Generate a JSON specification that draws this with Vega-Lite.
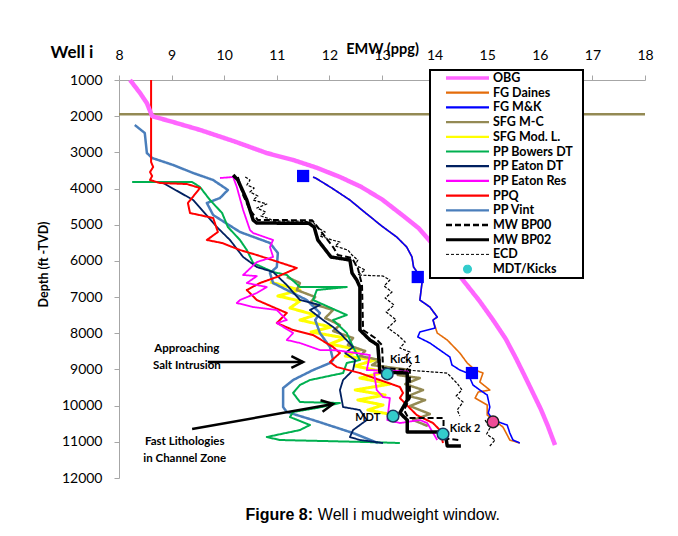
{
  "$schema": "https://vega.github.io/schema/vega-lite/v6.json",
  "width": 526,
  "height": 398,
  "autosize": {"type": "none"},
  "padding": {"left": 119, "top": 80, "right": 33, "bottom": 58},
  "background": "white",
  "config": {"view": {"stroke": null}, "axis": {"grid": false}, "font": "Lato", "legend": {"labelFontWeight": "bold"}},
  "datasets": {
    "lines": [
      {"series": "SFG Mod. L.", "emw": 10.87, "depth": 6583}, {"series": "SFG Mod. L.", "emw": 11.44, "depth": 6804}, {"series": "SFG Mod. L.", "emw": 11.02, "depth": 6970}, {"series": "SFG Mod. L.", "emw": 11.44, "depth": 7108}, {"series": "SFG Mod. L.", "emw": 11.25, "depth": 7302}, {"series": "SFG Mod. L.", "emw": 11.73, "depth": 7495}, {"series": "SFG Mod. L.", "emw": 11.44, "depth": 7634}, {"series": "SFG Mod. L.", "emw": 12.03, "depth": 7827}, {"series": "SFG Mod. L.", "emw": 11.65, "depth": 7965}, {"series": "SFG Mod. L.", "emw": 12.30, "depth": 8131}, {"series": "SFG Mod. L.", "emw": 12.01, "depth": 8297}, {"series": "SFG Mod. L.", "emw": 12.58, "depth": 8463}, {"series": "SFG Mod. L.", "emw": 12.30, "depth": 8629}, {"series": "SFG Mod. L.", "emw": 12.86, "depth": 8739}, {"series": "SFG Mod. L.", "emw": 12.49, "depth": 8905}, {"series": "SFG Mod. L.", "emw": 13.06, "depth": 9071}, {"series": "SFG Mod. L.", "emw": 12.58, "depth": 9237}, {"series": "SFG Mod. L.", "emw": 13.15, "depth": 9403}, {"series": "SFG Mod. L.", "emw": 12.49, "depth": 9568}, {"series": "SFG Mod. L.", "emw": 13.06, "depth": 9707}, {"series": "SFG Mod. L.", "emw": 12.54, "depth": 9845}, {"series": "SFG Mod. L.", "emw": 13.02, "depth": 9983}, {"series": "SFG Mod. L.", "emw": 12.73, "depth": 10121}, {"series": "SFG Mod. L.", "emw": 13.13, "depth": 10232},
      {"series": "SFG M-C", "seg": "a", "emw": 8, "depth": 1950}, {"series": "SFG M-C", "seg": "a", "emw": 18, "depth": 1950},
      {"series": "SFG M-C", "seg": "b", "emw": 11.19, "depth": 6445}, {"series": "SFG M-C", "seg": "b", "emw": 11.44, "depth": 6611}, {"series": "SFG M-C", "seg": "b", "emw": 11.38, "depth": 6804}, {"series": "SFG M-C", "seg": "b", "emw": 11.73, "depth": 6998}, {"series": "SFG M-C", "seg": "b", "emw": 11.63, "depth": 7164}, {"series": "SFG M-C", "seg": "b", "emw": 12.07, "depth": 7357}, {"series": "SFG M-C", "seg": "b", "emw": 11.92, "depth": 7578}, {"series": "SFG M-C", "seg": "b", "emw": 12.20, "depth": 7772}, {"series": "SFG M-C", "seg": "b", "emw": 12.07, "depth": 7938}, {"series": "SFG M-C", "seg": "b", "emw": 12.45, "depth": 8131}, {"series": "SFG M-C", "seg": "b", "emw": 12.35, "depth": 8325}, {"series": "SFG M-C", "seg": "b", "emw": 12.68, "depth": 8491}, {"series": "SFG M-C", "seg": "b", "emw": 12.58, "depth": 8629}, {"series": "SFG M-C", "seg": "b", "emw": 12.96, "depth": 8739}, {"series": "SFG M-C", "seg": "b", "emw": 12.81, "depth": 8877}, {"series": "SFG M-C", "seg": "b", "emw": 13.53, "depth": 9016}, {"series": "SFG M-C", "seg": "b", "emw": 13.30, "depth": 9154}, {"series": "SFG M-C", "seg": "b", "emw": 13.72, "depth": 9237}, {"series": "SFG M-C", "seg": "b", "emw": 13.44, "depth": 9403}, {"series": "SFG M-C", "seg": "b", "emw": 13.78, "depth": 9568}, {"series": "SFG M-C", "seg": "b", "emw": 13.50, "depth": 9734}, {"series": "SFG M-C", "seg": "b", "emw": 13.82, "depth": 9845}, {"series": "SFG M-C", "seg": "b", "emw": 13.53, "depth": 10011}, {"series": "SFG M-C", "seg": "b", "emw": 13.91, "depth": 10232}, {"series": "SFG M-C", "seg": "b", "emw": 13.59, "depth": 10398}, {"series": "SFG M-C", "seg": "b", "emw": 13.87, "depth": 10564},
      {"series": "PP Vint", "emw": 8.30, "depth": 2244}, {"series": "PP Vint", "emw": 8.49, "depth": 2465}, {"series": "PP Vint", "emw": 8.53, "depth": 3018}, {"series": "PP Vint", "emw": 8.63, "depth": 3156}, {"series": "PP Vint", "emw": 9.03, "depth": 3349}, {"series": "PP Vint", "emw": 9.41, "depth": 3571}, {"series": "PP Vint", "emw": 9.79, "depth": 3764}, {"series": "PP Vint", "emw": 10.07, "depth": 4040}, {"series": "PP Vint", "emw": 9.92, "depth": 4262}, {"series": "PP Vint", "emw": 9.67, "depth": 4400}, {"series": "PP Vint", "emw": 9.79, "depth": 4731}, {"series": "PP Vint", "emw": 10.30, "depth": 5201}, {"series": "PP Vint", "emw": 10.87, "depth": 5505}, {"series": "PP Vint", "emw": 11.02, "depth": 5782}, {"series": "PP Vint", "emw": 11.00, "depth": 6169}, {"series": "PP Vint", "emw": 10.87, "depth": 6335}, {"series": "PP Vint", "emw": 10.93, "depth": 6611}, {"series": "PP Vint", "emw": 11.19, "depth": 6804}, {"series": "PP Vint", "emw": 11.57, "depth": 7081}, {"series": "PP Vint", "emw": 11.82, "depth": 7440}, {"series": "PP Vint", "emw": 11.73, "depth": 7634}, {"series": "PP Vint", "emw": 11.82, "depth": 7993}, {"series": "PP Vint", "emw": 12.01, "depth": 8380}, {"series": "PP Vint", "emw": 12.07, "depth": 8739}, {"series": "PP Vint", "emw": 12.01, "depth": 8822}, {"series": "PP Vint", "emw": 11.69, "depth": 9016}, {"series": "PP Vint", "emw": 11.31, "depth": 9292}, {"series": "PP Vint", "emw": 11.12, "depth": 9513}, {"series": "PP Vint", "emw": 11.12, "depth": 10038}, {"series": "PP Vint", "emw": 11.19, "depth": 10176}, {"series": "PP Vint", "emw": 11.69, "depth": 10398}, {"series": "PP Vint", "emw": 12.45, "depth": 10757}, {"series": "PP Vint", "emw": 12.92, "depth": 11033},
      {"series": "PP Bowers DT", "emw": 8.25, "depth": 3819}, {"series": "PP Bowers DT", "emw": 9.39, "depth": 3819}, {"series": "PP Bowers DT", "emw": 9.54, "depth": 3958}, {"series": "PP Bowers DT", "emw": 9.73, "depth": 4317}, {"series": "PP Bowers DT", "emw": 9.96, "depth": 4676}, {"series": "PP Bowers DT", "emw": 10.07, "depth": 5063}, {"series": "PP Bowers DT", "emw": 10.30, "depth": 5422}, {"series": "PP Bowers DT", "emw": 10.43, "depth": 5699}, {"series": "PP Bowers DT", "emw": 10.55, "depth": 6058}, {"series": "PP Bowers DT", "emw": 10.93, "depth": 6307}, {"series": "PP Bowers DT", "emw": 11.19, "depth": 6390}, {"series": "PP Bowers DT", "emw": 11.44, "depth": 6722}, {"series": "PP Bowers DT", "emw": 12.33, "depth": 6722}, {"series": "PP Bowers DT", "emw": 11.76, "depth": 6804}, {"series": "PP Bowers DT", "emw": 11.69, "depth": 7081}, {"series": "PP Bowers DT", "emw": 12.33, "depth": 7495}, {"series": "PP Bowers DT", "emw": 12.07, "depth": 7634}, {"series": "PP Bowers DT", "emw": 12.33, "depth": 7993}, {"series": "PP Bowers DT", "emw": 12.45, "depth": 8380}, {"series": "PP Bowers DT", "emw": 12.58, "depth": 8739}, {"series": "PP Bowers DT", "emw": 12.33, "depth": 8822}, {"series": "PP Bowers DT", "emw": 12.26, "depth": 9099}, {"series": "PP Bowers DT", "emw": 11.63, "depth": 9292}, {"series": "PP Bowers DT", "emw": 11.44, "depth": 9430}, {"series": "PP Bowers DT", "emw": 11.31, "depth": 9651}, {"series": "PP Bowers DT", "emw": 11.44, "depth": 9900}, {"series": "PP Bowers DT", "emw": 12.20, "depth": 9928}, {"series": "PP Bowers DT", "emw": 11.76, "depth": 10066}, {"series": "PP Bowers DT", "emw": 11.31, "depth": 10176}, {"series": "PP Bowers DT", "emw": 11.25, "depth": 10315}, {"series": "PP Bowers DT", "emw": 11.63, "depth": 10536}, {"series": "PP Bowers DT", "emw": 11.44, "depth": 10674}, {"series": "PP Bowers DT", "emw": 10.81, "depth": 10868}, {"series": "PP Bowers DT", "emw": 11.06, "depth": 10950}, {"series": "PP Bowers DT", "emw": 12.71, "depth": 11006}, {"series": "PP Bowers DT", "emw": 13.34, "depth": 11033},
      {"series": "PP Eaton DT", "emw": 8.84, "depth": 3847}, {"series": "PP Eaton DT", "emw": 9.41, "depth": 4317}, {"series": "PP Eaton DT", "emw": 9.86, "depth": 5063}, {"series": "PP Eaton DT", "emw": 10.11, "depth": 5422}, {"series": "PP Eaton DT", "emw": 10.36, "depth": 5892}, {"series": "PP Eaton DT", "emw": 10.62, "depth": 6169}, {"series": "PP Eaton DT", "emw": 10.93, "depth": 6307}, {"series": "PP Eaton DT", "emw": 11.19, "depth": 6666}, {"series": "PP Eaton DT", "emw": 11.44, "depth": 7081}, {"series": "PP Eaton DT", "emw": 11.82, "depth": 7219}, {"series": "PP Eaton DT", "emw": 11.63, "depth": 7357}, {"series": "PP Eaton DT", "emw": 11.88, "depth": 7634}, {"series": "PP Eaton DT", "emw": 12.07, "depth": 7827}, {"series": "PP Eaton DT", "emw": 12.20, "depth": 7993}, {"series": "PP Eaton DT", "emw": 12.45, "depth": 8380}, {"series": "PP Eaton DT", "emw": 12.30, "depth": 8546}, {"series": "PP Eaton DT", "emw": 12.49, "depth": 8739}, {"series": "PP Eaton DT", "emw": 12.45, "depth": 9016}, {"series": "PP Eaton DT", "emw": 12.26, "depth": 9292}, {"series": "PP Eaton DT", "emw": 12.20, "depth": 9568}, {"series": "PP Eaton DT", "emw": 12.26, "depth": 10038}, {"series": "PP Eaton DT", "emw": 12.58, "depth": 10121}, {"series": "PP Eaton DT", "emw": 12.71, "depth": 10398}, {"series": "PP Eaton DT", "emw": 12.45, "depth": 10674}, {"series": "PP Eaton DT", "emw": 12.39, "depth": 10868}, {"series": "PP Eaton DT", "emw": 12.58, "depth": 10950}, {"series": "PP Eaton DT", "emw": 13.02, "depth": 11033},
      {"series": "PPQ", "emw": 8.61, "depth": 1000}, {"series": "PPQ", "emw": 8.61, "depth": 3267}, {"series": "PPQ", "emw": 8.65, "depth": 3405}, {"series": "PPQ", "emw": 8.59, "depth": 3543}, {"series": "PPQ", "emw": 8.63, "depth": 3654}, {"series": "PPQ", "emw": 8.59, "depth": 3764}, {"series": "PPQ", "emw": 8.78, "depth": 3847}, {"series": "PPQ", "emw": 9.29, "depth": 3875}, {"series": "PPQ", "emw": 9.54, "depth": 3985}, {"series": "PPQ", "emw": 9.31, "depth": 4400}, {"series": "PPQ", "emw": 9.35, "depth": 4676}, {"series": "PPQ", "emw": 9.79, "depth": 4814}, {"series": "PPQ", "emw": 9.88, "depth": 5201}, {"series": "PPQ", "emw": 9.67, "depth": 5422}, {"series": "PPQ", "emw": 9.96, "depth": 5505}, {"series": "PPQ", "emw": 10.30, "depth": 5699}, {"series": "PPQ", "emw": 10.62, "depth": 5837}, {"series": "PPQ", "emw": 11.38, "depth": 6196}, {"series": "PPQ", "emw": 11.00, "depth": 6445}, {"series": "PPQ", "emw": 10.68, "depth": 6611}, {"series": "PPQ", "emw": 10.43, "depth": 6804}, {"series": "PPQ", "emw": 10.62, "depth": 7081}, {"series": "PPQ", "emw": 11.19, "depth": 7440}, {"series": "PPQ", "emw": 11.00, "depth": 7717}, {"series": "PPQ", "emw": 11.31, "depth": 7910}, {"series": "PPQ", "emw": 11.69, "depth": 8048}, {"series": "PPQ", "emw": 12.07, "depth": 8380}, {"series": "PPQ", "emw": 12.20, "depth": 8546}, {"series": "PPQ", "emw": 12.01, "depth": 8794}, {"series": "PPQ", "emw": 12.14, "depth": 8933}, {"series": "PPQ", "emw": 12.58, "depth": 9099}, {"series": "PPQ", "emw": 12.96, "depth": 9292}, {"series": "PPQ", "emw": 13.34, "depth": 9485}, {"series": "PPQ", "emw": 13.40, "depth": 9651}, {"series": "PPQ", "emw": 13.34, "depth": 9790}, {"series": "PPQ", "emw": 13.47, "depth": 9983}, {"series": "PPQ", "emw": 13.66, "depth": 10260}, {"series": "PPQ", "emw": 13.97, "depth": 10481}, {"series": "PPQ", "emw": 14.10, "depth": 10674}, {"series": "PPQ", "emw": 14.16, "depth": 11033},
      {"series": "PP Eaton Res", "emw": 9.92, "depth": 3709}, {"series": "PP Eaton Res", "emw": 10.17, "depth": 3681}, {"series": "PP Eaton Res", "emw": 10.24, "depth": 3958}, {"series": "PP Eaton Res", "emw": 10.36, "depth": 4593}, {"series": "PP Eaton Res", "emw": 10.49, "depth": 5146}, {"series": "PP Eaton Res", "emw": 10.55, "depth": 5229}, {"series": "PP Eaton Res", "emw": 10.93, "depth": 5422}, {"series": "PP Eaton Res", "emw": 10.87, "depth": 5616}, {"series": "PP Eaton Res", "emw": 10.93, "depth": 5892}, {"series": "PP Eaton Res", "emw": 10.62, "depth": 6031}, {"series": "PP Eaton Res", "emw": 10.36, "depth": 6390}, {"series": "PP Eaton Res", "emw": 10.62, "depth": 6420}, {"series": "PP Eaton Res", "emw": 10.43, "depth": 6611}, {"series": "PP Eaton Res", "emw": 10.81, "depth": 6722}, {"series": "PP Eaton Res", "emw": 10.62, "depth": 6887}, {"series": "PP Eaton Res", "emw": 10.30, "depth": 7081}, {"series": "PP Eaton Res", "emw": 10.24, "depth": 7164}, {"series": "PP Eaton Res", "emw": 10.55, "depth": 7274}, {"series": "PP Eaton Res", "emw": 11.00, "depth": 7357}, {"series": "PP Eaton Res", "emw": 11.19, "depth": 7634}, {"series": "PP Eaton Res", "emw": 11.00, "depth": 7717}, {"series": "PP Eaton Res", "emw": 11.31, "depth": 7993}, {"series": "PP Eaton Res", "emw": 11.19, "depth": 8186}, {"series": "PP Eaton Res", "emw": 11.44, "depth": 8269}, {"series": "PP Eaton Res", "emw": 11.82, "depth": 8463}, {"series": "PP Eaton Res", "emw": 12.14, "depth": 8470}, {"series": "PP Eaton Res", "emw": 12.77, "depth": 8601}, {"series": "PP Eaton Res", "emw": 12.71, "depth": 9016}, {"series": "PP Eaton Res", "emw": 13.50, "depth": 9050}, {"series": "PP Eaton Res", "emw": 12.85, "depth": 9100}, {"series": "PP Eaton Res", "emw": 12.90, "depth": 9568}, {"series": "PP Eaton Res", "emw": 13.02, "depth": 9762}, {"series": "PP Eaton Res", "emw": 13.15, "depth": 9790}, {"series": "PP Eaton Res", "emw": 13.10, "depth": 10398}, {"series": "PP Eaton Res", "emw": 13.34, "depth": 10481}, {"series": "PP Eaton Res", "emw": 13.72, "depth": 10398}, {"series": "PP Eaton Res", "emw": 13.86, "depth": 10481}, {"series": "PP Eaton Res", "emw": 14.05, "depth": 10950},
      {"series": "FG Daines", "emw": 11.69, "depth": 3681}, {"series": "FG Daines", "emw": 11.75, "depth": 3720}, {"series": "FG Daines", "emw": 12.05, "depth": 3990}, {"series": "FG Daines", "emw": 12.39, "depth": 4317}, {"series": "FG Daines", "emw": 12.70, "depth": 4690}, {"series": "FG Daines", "emw": 13.02, "depth": 5063}, {"series": "FG Daines", "emw": 13.28, "depth": 5340}, {"series": "FG Daines", "emw": 13.47, "depth": 5616}, {"series": "FG Daines", "emw": 13.57, "depth": 5892}, {"series": "FG Daines", "emw": 13.60, "depth": 6169}, {"series": "FG Daines", "emw": 13.68, "depth": 6335}, {"series": "FG Daines", "emw": 13.76, "depth": 6611}, {"series": "FG Daines", "emw": 13.72, "depth": 7081}, {"series": "FG Daines", "emw": 13.91, "depth": 7274}, {"series": "FG Daines", "emw": 14.05, "depth": 7551}, {"series": "FG Daines", "emw": 13.97, "depth": 7634}, {"series": "FG Daines", "emw": 14.05, "depth": 7993}, {"series": "FG Daines", "emw": 14.24, "depth": 8186}, {"series": "FG Daines", "emw": 14.48, "depth": 8546}, {"series": "FG Daines", "emw": 14.62, "depth": 8822}, {"series": "FG Daines", "emw": 14.77, "depth": 9016}, {"series": "FG Daines", "emw": 14.92, "depth": 9099}, {"series": "FG Daines", "emw": 14.86, "depth": 9347}, {"series": "FG Daines", "emw": 15.05, "depth": 9568}, {"series": "FG Daines", "emw": 14.83, "depth": 9624}, {"series": "FG Daines", "emw": 14.77, "depth": 9790}, {"series": "FG Daines", "emw": 15.00, "depth": 9983}, {"series": "FG Daines", "emw": 15.00, "depth": 10260}, {"series": "FG Daines", "emw": 15.30, "depth": 10591}, {"series": "FG Daines", "emw": 15.38, "depth": 10812}, {"series": "FG Daines", "emw": 15.43, "depth": 10950}, {"series": "FG Daines", "emw": 15.62, "depth": 11033},
      {"series": "FG M&K", "emw": 11.69, "depth": 3681}, {"series": "FG M&K", "emw": 11.75, "depth": 3720}, {"series": "FG M&K", "emw": 12.05, "depth": 3990}, {"series": "FG M&K", "emw": 12.39, "depth": 4317}, {"series": "FG M&K", "emw": 12.70, "depth": 4690}, {"series": "FG M&K", "emw": 13.02, "depth": 5063}, {"series": "FG M&K", "emw": 13.28, "depth": 5340}, {"series": "FG M&K", "emw": 13.47, "depth": 5616}, {"series": "FG M&K", "emw": 13.57, "depth": 5892}, {"series": "FG M&K", "emw": 13.60, "depth": 6169}, {"series": "FG M&K", "emw": 13.68, "depth": 6335}, {"series": "FG M&K", "emw": 13.76, "depth": 6611}, {"series": "FG M&K", "emw": 13.72, "depth": 7081}, {"series": "FG M&K", "emw": 13.91, "depth": 7274}, {"series": "FG M&K", "emw": 14.05, "depth": 7551}, {"series": "FG M&K", "emw": 13.97, "depth": 7634}, {"series": "FG M&K", "emw": 14.01, "depth": 7855}, {"series": "FG M&K", "emw": 13.72, "depth": 7965}, {"series": "FG M&K", "emw": 13.68, "depth": 8103}, {"series": "FG M&K", "emw": 13.91, "depth": 8269}, {"series": "FG M&K", "emw": 14.10, "depth": 8463}, {"series": "FG M&K", "emw": 14.29, "depth": 8656}, {"series": "FG M&K", "emw": 14.33, "depth": 8877}, {"series": "FG M&K", "emw": 14.48, "depth": 9016}, {"series": "FG M&K", "emw": 14.63, "depth": 9099}, {"series": "FG M&K", "emw": 14.73, "depth": 9430}, {"series": "FG M&K", "emw": 14.86, "depth": 9568}, {"series": "FG M&K", "emw": 15.00, "depth": 9707}, {"series": "FG M&K", "emw": 15.05, "depth": 10038}, {"series": "FG M&K", "emw": 15.02, "depth": 10204}, {"series": "FG M&K", "emw": 15.11, "depth": 10398}, {"series": "FG M&K", "emw": 15.38, "depth": 10536}, {"series": "FG M&K", "emw": 15.43, "depth": 10757}, {"series": "FG M&K", "emw": 15.49, "depth": 10950}, {"series": "FG M&K", "emw": 15.62, "depth": 11033},
      {"series": "OBG", "emw": 8.21, "depth": 1000}, {"series": "OBG", "emw": 8.40, "depth": 1360}, {"series": "OBG", "emw": 8.53, "depth": 1640}, {"series": "OBG", "emw": 8.63, "depth": 2000}, {"series": "OBG", "emw": 9.00, "depth": 2150}, {"series": "OBG", "emw": 9.54, "depth": 2380}, {"series": "OBG", "emw": 10.20, "depth": 2700}, {"series": "OBG", "emw": 10.81, "depth": 3020}, {"series": "OBG", "emw": 11.31, "depth": 3210}, {"series": "OBG", "emw": 11.75, "depth": 3420}, {"series": "OBG", "emw": 12.20, "depth": 3680}, {"series": "OBG", "emw": 12.60, "depth": 3950}, {"series": "OBG", "emw": 13.00, "depth": 4300}, {"series": "OBG", "emw": 13.40, "depth": 4750}, {"series": "OBG", "emw": 13.70, "depth": 5100}, {"series": "OBG", "emw": 13.91, "depth": 5450}, {"series": "OBG", "emw": 14.25, "depth": 6000}, {"series": "OBG", "emw": 14.55, "depth": 6550}, {"series": "OBG", "emw": 14.85, "depth": 7100}, {"series": "OBG", "emw": 15.11, "depth": 7630}, {"series": "OBG", "emw": 15.35, "depth": 8150}, {"series": "OBG", "emw": 15.55, "depth": 8700}, {"series": "OBG", "emw": 15.72, "depth": 9200}, {"series": "OBG", "emw": 15.87, "depth": 9650}, {"series": "OBG", "emw": 16.02, "depth": 10100}, {"series": "OBG", "emw": 16.15, "depth": 10550}, {"series": "OBG", "emw": 16.29, "depth": 11090},
      {"series": "ECD", "seg": "a", "emw": 10.40, "depth": 3681}, {"series": "ECD", "seg": "a", "emw": 10.49, "depth": 3764}, {"series": "ECD", "seg": "a", "emw": 10.43, "depth": 3902}, {"series": "ECD", "seg": "a", "emw": 10.57, "depth": 3985}, {"series": "ECD", "seg": "a", "emw": 10.49, "depth": 4096}, {"series": "ECD", "seg": "a", "emw": 10.64, "depth": 4206}, {"series": "ECD", "seg": "a", "emw": 10.55, "depth": 4317}, {"series": "ECD", "seg": "a", "emw": 10.81, "depth": 4427}, {"series": "ECD", "seg": "a", "emw": 10.62, "depth": 4538}, {"series": "ECD", "seg": "a", "emw": 10.79, "depth": 4649}, {"series": "ECD", "seg": "a", "emw": 10.70, "depth": 4759}, {"series": "ECD", "seg": "a", "emw": 10.87, "depth": 4842}, {"series": "ECD", "seg": "a", "emw": 10.93, "depth": 4898}, {"series": "ECD", "seg": "a", "emw": 11.44, "depth": 4900}, {"series": "ECD", "seg": "a", "emw": 11.69, "depth": 4925}, {"series": "ECD", "seg": "a", "emw": 11.78, "depth": 5091}, {"series": "ECD", "seg": "a", "emw": 11.92, "depth": 5201}, {"series": "ECD", "seg": "a", "emw": 11.82, "depth": 5312}, {"series": "ECD", "seg": "a", "emw": 12.05, "depth": 5422}, {"series": "ECD", "seg": "a", "emw": 12.20, "depth": 5478}, {"series": "ECD", "seg": "a", "emw": 12.11, "depth": 5588}, {"series": "ECD", "seg": "a", "emw": 12.35, "depth": 5699}, {"series": "ECD", "seg": "a", "emw": 12.43, "depth": 5837}, {"series": "ECD", "seg": "a", "emw": 12.54, "depth": 5975}, {"series": "ECD", "seg": "a", "emw": 12.49, "depth": 6113}, {"series": "ECD", "seg": "a", "emw": 12.68, "depth": 6252}, {"series": "ECD", "seg": "a", "emw": 12.54, "depth": 6390}, {"series": "ECD", "seg": "a", "emw": 13.02, "depth": 6418}, {"series": "ECD", "seg": "a", "emw": 13.15, "depth": 6528}, {"series": "ECD", "seg": "a", "emw": 13.04, "depth": 6694}, {"series": "ECD", "seg": "a", "emw": 13.19, "depth": 6860}, {"series": "ECD", "seg": "a", "emw": 13.06, "depth": 7026}, {"series": "ECD", "seg": "a", "emw": 13.23, "depth": 7219}, {"series": "ECD", "seg": "a", "emw": 13.08, "depth": 7412}, {"series": "ECD", "seg": "a", "emw": 13.27, "depth": 7634}, {"series": "ECD", "seg": "a", "emw": 13.11, "depth": 7855}, {"series": "ECD", "seg": "a", "emw": 13.30, "depth": 8048}, {"series": "ECD", "seg": "a", "emw": 13.44, "depth": 8242}, {"series": "ECD", "seg": "a", "emw": 13.34, "depth": 8408}, {"series": "ECD", "seg": "a", "emw": 13.53, "depth": 8518}, {"series": "ECD", "seg": "a", "emw": 13.42, "depth": 8684}, {"series": "ECD", "seg": "a", "emw": 13.57, "depth": 8850}, {"series": "ECD", "seg": "a", "emw": 13.46, "depth": 9016}, {"series": "ECD", "seg": "a", "emw": 14.24, "depth": 9099}, {"series": "ECD", "seg": "a", "emw": 14.33, "depth": 9237}, {"series": "ECD", "seg": "a", "emw": 14.44, "depth": 9403}, {"series": "ECD", "seg": "a", "emw": 14.52, "depth": 9568}, {"series": "ECD", "seg": "a", "emw": 14.41, "depth": 9734}, {"series": "ECD", "seg": "a", "emw": 14.54, "depth": 9900}, {"series": "ECD", "seg": "a", "emw": 14.43, "depth": 10121}, {"series": "ECD", "seg": "a", "emw": 14.48, "depth": 10287},
      {"series": "ECD", "seg": "b", "emw": 14.96, "depth": 10398}, {"series": "ECD", "seg": "b", "emw": 15.05, "depth": 10619}, {"series": "ECD", "seg": "b", "emw": 14.99, "depth": 10785}, {"series": "ECD", "seg": "b", "emw": 15.15, "depth": 10950}, {"series": "ECD", "seg": "b", "emw": 15.05, "depth": 11116},
      {"series": "MW BP00", "emw": 10.26, "depth": 3681}, {"series": "MW BP00", "emw": 10.36, "depth": 4179}, {"series": "MW BP00", "emw": 10.49, "depth": 4593}, {"series": "MW BP00", "emw": 10.64, "depth": 4870}, {"series": "MW BP00", "emw": 11.67, "depth": 4875}, {"series": "MW BP00", "emw": 11.82, "depth": 5146}, {"series": "MW BP00", "emw": 12.07, "depth": 5616}, {"series": "MW BP00", "emw": 12.16, "depth": 5837}, {"series": "MW BP00", "emw": 12.43, "depth": 5920}, {"series": "MW BP00", "emw": 12.54, "depth": 6196}, {"series": "MW BP00", "emw": 12.62, "depth": 6666}, {"series": "MW BP00", "emw": 12.64, "depth": 7910}, {"series": "MW BP00", "emw": 12.87, "depth": 8131}, {"series": "MW BP00", "emw": 13.00, "depth": 8325}, {"series": "MW BP00", "emw": 13.02, "depth": 8960}, {"series": "MW BP00", "emw": 13.53, "depth": 9016}, {"series": "MW BP00", "emw": 13.53, "depth": 9790}, {"series": "MW BP00", "emw": 13.42, "depth": 10121}, {"series": "MW BP00", "emw": 13.50, "depth": 10343}, {"series": "MW BP00", "emw": 14.17, "depth": 10343}, {"series": "MW BP00", "emw": 14.17, "depth": 10900}, {"series": "MW BP00", "emw": 14.45, "depth": 10950},
      {"series": "MW BP02", "emw": 10.17, "depth": 3626}, {"series": "MW BP02", "emw": 10.26, "depth": 3764}, {"series": "MW BP02", "emw": 10.43, "depth": 4317}, {"series": "MW BP02", "emw": 10.55, "depth": 4870}, {"series": "MW BP02", "emw": 10.62, "depth": 4953}, {"series": "MW BP02", "emw": 11.61, "depth": 4960}, {"series": "MW BP02", "emw": 11.71, "depth": 5063}, {"series": "MW BP02", "emw": 11.78, "depth": 5422}, {"series": "MW BP02", "emw": 12.03, "depth": 5892}, {"series": "MW BP02", "emw": 12.39, "depth": 5975}, {"series": "MW BP02", "emw": 12.43, "depth": 6335}, {"series": "MW BP02", "emw": 12.52, "depth": 6528}, {"series": "MW BP02", "emw": 12.58, "depth": 6722}, {"series": "MW BP02", "emw": 12.58, "depth": 7910}, {"series": "MW BP02", "emw": 12.77, "depth": 8186}, {"series": "MW BP02", "emw": 12.92, "depth": 8325}, {"series": "MW BP02", "emw": 12.96, "depth": 9071}, {"series": "MW BP02", "emw": 13.48, "depth": 9099}, {"series": "MW BP02", "emw": 13.48, "depth": 9845}, {"series": "MW BP02", "emw": 13.34, "depth": 10200}, {"series": "MW BP02", "emw": 13.48, "depth": 10400}, {"series": "MW BP02", "emw": 13.48, "depth": 10729}, {"series": "MW BP02", "emw": 14.20, "depth": 10729}, {"series": "MW BP02", "emw": 14.24, "depth": 11116}, {"series": "MW BP02", "emw": 14.50, "depth": 11116}
    ],
    "kicks": [
      {"series": "MDT/Kicks", "emw": 13.10, "depth": 9125},
      {"series": "MDT/Kicks", "emw": 13.21, "depth": 10290},
      {"series": "MDT/Kicks", "emw": 14.16, "depth": 10785}
    ],
    "pinkpoint": [{"emw": 15.11, "depth": 10450}],
    "squares": [
      {"emw": 11.50, "depth": 3653},
      {"emw": 13.68, "depth": 6445},
      {"emw": 14.71, "depth": 9099}
    ],
    "casing": [
      {"label": "30\"", "depth": 1967},
      {"label": "20\"", "depth": 3500},
      {"label": "16\"", "depth": 4870},
      {"label": "13 5/8\"", "depth": 6252},
      {"label": "9 5/8\"", "depth": 8990},
      {"label": "7\"", "depth": 10343},
      {"label": "5\"", "depth": 11006}
    ],
    "kicklabels": [
      {"label": "Kick 1", "emw": 13.15, "depth": 8740},
      {"label": "MDT", "emw": 12.49, "depth": 10342},
      {"label": "Kick 2", "emw": 14.29, "depth": 10646}
    ],
    "notes": [
      {"label": "Approaching\nSalt Intrusion", "emw": 9.29, "depth": 8518},
      {"label": "Fast Lithologies\nin Channel Zone", "emw": 9.25, "depth": 11089}
    ],
    "arrows": [
      {"note": "salt", "emw": 9.69, "depth": 8795, "emw2": 11.50, "depth2": 8795},
      {"note": "fast", "emw": 9.39, "depth": 10646, "emw2": 12.07, "depth2": 9955}
    ],
    "well": [{"label": "Well i", "emw": 7.107, "depth": 392}],
    "caption": [
      {"part": "head", "label": "Figure 8:", "emw": 11.69, "depth": 13162},
      {"part": "body", "label": "Well i mudweight window.", "emw": 11.78, "depth": 13162}
    ]
  },
  "encoding": {
    "x": {
      "field": "emw", "type": "quantitative",
      "scale": {"domain": [8, 18], "nice": false, "zero": false},
      "axis": {
        "orient": "top", "title": "EMW (ppg)", "values": [8, 9, 10, 11, 12, 13, 14, 15, 16, 17, 18], "format": "d",
        "labelFlush": false, "labelOverlap": false, "domainColor": "#A6A6A6", "tickColor": "#A6A6A6", "tickSize": 5,
        "labelFont": "Lato", "labelFontSize": 14, "labelColor": "#000000", "labelPadding": 16, "labelBaseline": "alphabetic",
        "titleFont": "Lato", "titleFontSize": 14.5, "titleFontWeight": "bold", "titleColor": "#000000", "titleY": -27, "titleBaseline": "alphabetic"
      }
    },
    "y": {
      "field": "depth", "type": "quantitative",
      "scale": {"domain": [1000, 12000], "reverse": true, "nice": false, "zero": false},
      "axis": {
        "orient": "left", "title": "Depth (ft -TVD)", "values": [1000, 2000, 3000, 4000, 5000, 6000, 7000, 8000, 9000, 10000, 11000, 12000], "format": "d",
        "labelFlush": false, "labelOverlap": false, "domainColor": "#A6A6A6", "tickColor": "#A6A6A6", "tickSize": 5,
        "labelFont": "Lato", "labelFontSize": 14, "labelColor": "#000000", "labelPadding": 12,
        "titleFont": "Lato", "titleFontSize": 12.5, "titleFontWeight": "bold", "titleColor": "#000000",
        "titleX": -76, "titleY": 184, "titleAngle": 270, "titleAlign": "center", "titleBaseline": "middle"
      }
    }
  },
  "layer": [
    {
      "data": {"name": "lines"},
      "mark": {"type": "line", "strokeJoin": "round", "strokeCap": "butt"},
      "encoding": {
        "color": {
          "field": "series", "type": "nominal",
          "scale": {
            "domain": ["OBG", "FG Daines", "FG M&K", "SFG M-C", "SFG Mod. L.", "PP Bowers DT", "PP Eaton DT", "PP Eaton Res", "PPQ", "PP Vint", "MW BP00", "MW BP02", "ECD", "MDT/Kicks"],
            "range": ["#FF66FF", "#E46C0A", "#0000FF", "#948A54", "#FFFF00", "#00B050", "#002060", "#FF00FF", "#FF0000", "#4A7EBB", "#000000", "#000000", "#000000", "#33CCCC"]
          },
          "legend": {
            "orient": "none", "legendX": 311, "legendY": -10, "direction": "vertical", "columns": 1,
            "title": " ", "titleOrient": "right", "titlePadding": 9, "titleFontSize": 12,
            "padding": 1, "fillColor": "#FFFFFF", "strokeColor": "#000000",
            "clipHeight": 14, "rowPadding": 0.7,
            "symbolType": "stroke", "symbolSize": 1849, "symbolStrokeWidth": 2.5, "symbolOffset": 13, "symbolOpacity": 1,
            "labelOffset": 15, "labelFont": "Lato", "labelFontSize": 12.5, "labelFontWeight": "bold", "labelColor": "#000000", "labelLimit": 200,
            "encode": {
              "legend": {"update": {"strokeWidth": {"value": 2}}},
              "labels": {"update": {"x": {"value": 62}, "fontWeight": {"value": "bold"}}},
              "symbols": {"update": {
                "x": {"value": 36.5},
                "shape": {"signal": "datum.value === 'MDT/Kicks' ? 'circle' : 'stroke'"},
                "size": {"signal": "datum.value === 'MDT/Kicks' ? 60 : 1849"},
                "strokeWidth": {"signal": "datum.value === 'OBG' ? 3.5 : datum.value === 'MW BP02' ? 3 : datum.value === 'MW BP00' ? 2.5 : datum.value === 'ECD' ? 1 : datum.value === 'MDT/Kicks' ? 1.2 : 2.2"},
                "strokeDash": {"signal": "datum.value === 'MW BP00' ? [6, 3] : datum.value === 'ECD' ? [3, 2] : [1, 0]"},
                "stroke": {"signal": "datum.value === 'MDT/Kicks' ? '#17375E' : scale('color', datum.value)"},
                "fill": {"signal": "datum.value === 'MDT/Kicks' ? '#33CCCC' : 'transparent'"},
                "opacity": {"value": 1}
              }}
            }
          }
        },
        "detail": {"field": "seg", "type": "nominal"},
        "order": {"value": null},
        "strokeWidth": {
          "condition": [
            {"test": "datum.series === 'OBG'", "value": 4.5},
            {"test": "datum.series === 'MW BP02'", "value": 3.5},
            {"test": "datum.series === 'SFG Mod. L.'", "value": 3},
            {"test": "datum.series === 'SFG M-C' || datum.series === 'PP Vint'", "value": 2.5},
            {"test": "datum.series === 'PP Eaton DT' || datum.series === 'PP Eaton Res'", "value": 1.8},
            {"test": "datum.series === 'FG Daines' || datum.series === 'FG M&K'", "value": 1.6},
            {"test": "datum.series === 'ECD'", "value": 1.2}
          ],
          "value": 2
        },
        "strokeDash": {
          "condition": [
            {"test": "datum.series === 'MW BP00'", "value": [6, 3]},
            {"test": "datum.series === 'ECD'", "value": [3, 1.5]}
          ],
          "value": [1, 0]
        }
      }
    },
    {
      "data": {"name": "squares"},
      "mark": {"type": "point", "shape": "square", "filled": true, "size": 150, "color": "#0000FF", "opacity": 1}
    },
    {
      "data": {"name": "kicks"},
      "mark": {"type": "point", "shape": "circle", "filled": true, "size": 135, "stroke": "#17375E", "strokeWidth": 1.5, "opacity": 1},
      "encoding": {"color": {"field": "series", "type": "nominal"}}
    },
    {
      "data": {"name": "pinkpoint"},
      "mark": {"type": "point", "shape": "circle", "filled": true, "size": 135, "fill": "#EE4C97", "stroke": "#1F1F1F", "strokeWidth": 1.5, "opacity": 1}
    },
    {
      "data": {"name": "casing"},
      "mark": {"type": "rule", "color": "#000000", "strokeWidth": 2.5},
      "encoding": {
        "x": {"datum": 18},
        "y": {"aggregate": "min", "field": "depth", "type": "quantitative"},
        "y2": {"aggregate": "max", "field": "depth"}
      }
    },
    {
      "data": {"name": "casing"},
      "mark": {"type": "point", "shape": "M0,0L1,1.5L-1,1.5Z", "size": 256, "filled": true, "color": "#000000", "opacity": 1},
      "encoding": {"x": {"datum": 18}}
    },
    {
      "data": {"name": "casing"},
      "mark": {"type": "text", "align": "right", "baseline": "middle", "font": "Lato", "fontWeight": "bold", "fontSize": 13.5, "color": "#000000"},
      "encoding": {"x": {"datum": 17.75}, "text": {"field": "label"}}
    },
    {
      "data": {"name": "kicklabels"},
      "mark": {"type": "text", "align": "left", "baseline": "middle", "font": "Lato", "fontWeight": "bold", "fontSize": 11, "color": "#000000"},
      "encoding": {"text": {"field": "label"}}
    },
    {
      "data": {"name": "notes"},
      "mark": {"type": "text", "align": "center", "baseline": "alphabetic", "lineBreak": "\n", "lineHeight": 16.5, "font": "Lato", "fontWeight": "bold", "fontSize": 11.5, "color": "#000000"},
      "encoding": {"text": {"field": "label"}}
    },
    {
      "data": {"name": "arrows"},
      "mark": {"type": "rule", "color": "#000000", "strokeWidth": 2.5},
      "encoding": {"x2": {"field": "emw2"}, "y2": {"field": "depth2"}}
    },
    {
      "data": {"name": "arrows"},
      "transform": [{"filter": "datum.note === 'salt'"}],
      "mark": {"type": "point", "shape": "M-1,-0.5L0,0L-1,0.5", "size": 550, "filled": false, "stroke": "#000000", "strokeWidth": 2.5, "angle": 0, "opacity": 1},
      "encoding": {"x": {"field": "emw2", "type": "quantitative"}, "y": {"field": "depth2", "type": "quantitative"}}
    },
    {
      "data": {"name": "arrows"},
      "transform": [{"filter": "datum.note === 'fast'"}],
      "mark": {"type": "point", "shape": "M-1,-0.5L0,0L-1,0.5", "size": 550, "filled": false, "stroke": "#000000", "strokeWidth": 2.5, "angle": 350, "opacity": 1},
      "encoding": {"x": {"field": "emw2", "type": "quantitative"}, "y": {"field": "depth2", "type": "quantitative"}}
    },
    {
      "data": {"name": "well"},
      "mark": {"type": "text", "align": "center", "baseline": "alphabetic", "font": "Lato", "fontWeight": "bold", "fontSize": 17, "color": "#000000"},
      "encoding": {"text": {"field": "label"}}
    },
    {
      "data": {"name": "caption"},
      "transform": [{"filter": "datum.part === 'head'"}],
      "mark": {"type": "text", "align": "right", "baseline": "alphabetic", "font": "Liberation Sans", "fontWeight": "bold", "fontSize": 16, "color": "#000000"},
      "encoding": {"text": {"field": "label"}}
    },
    {
      "data": {"name": "caption"},
      "transform": [{"filter": "datum.part === 'body'"}],
      "mark": {"type": "text", "align": "left", "baseline": "alphabetic", "font": "Liberation Sans", "fontSize": 16, "color": "#000000"},
      "encoding": {"text": {"field": "label"}}
    }
  ]
}
